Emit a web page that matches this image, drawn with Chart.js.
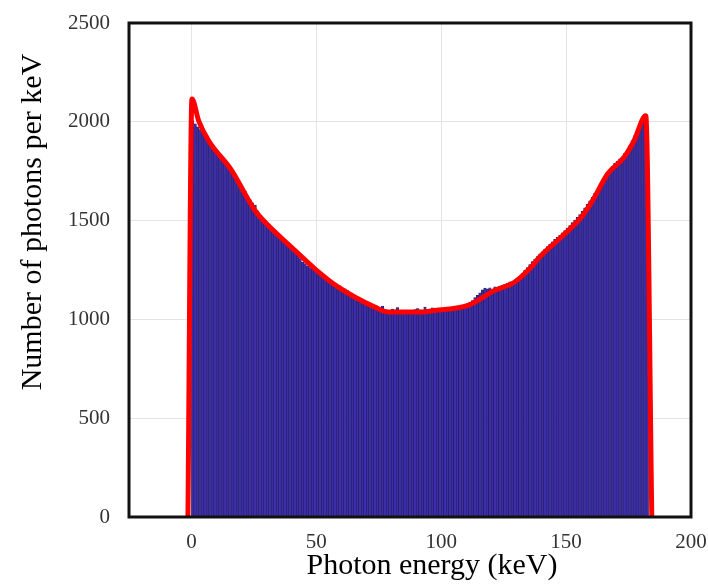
<!DOCTYPE html>
<html>
<head>
<meta charset="utf-8">
<script src="https://cdn.jsdelivr.net/npm/chart.js@4"></script>
<style>
  html, body { margin: 0; padding: 0; background: #fff; }
  #wrap { width: 708px; height: 584px; }
</style>
</head>
<body>
<div id="wrap"><canvas id="spectrum" width="708" height="584"></canvas></div>
<script>
// histogram counts per 1 keV bin, starting at 0 keV
const binStart = 0;
const binWidth = 1;
const counts = [
  2005, 1990, 1975, 1960, 1950, 1925, 1915, 1895, 1880, 1860,
  1840, 1828, 1815, 1800, 1790, 1770, 1752, 1735, 1715, 1690,
  1668, 1648, 1625, 1605, 1590, 1578, 1550, 1525, 1510, 1497,
  1480, 1470, 1462, 1445, 1428, 1415, 1400, 1390, 1375, 1362,
  1352, 1340, 1325, 1308, 1290, 1282, 1270, 1262, 1262, 1250,
  1240, 1235, 1225, 1212, 1205, 1196, 1186, 1182, 1168, 1170,
  1150, 1155, 1146, 1132, 1118, 1115, 1108, 1100, 1090, 1085,
  1078, 1072, 1068, 1062, 1055, 1045, 1068, 1040, 1035, 1038,
  1052, 1048, 1060, 1035, 1038, 1037, 1033, 1042, 1040, 1050,
  1055, 1048, 1040, 1062, 1050, 1045, 1058, 1046, 1045, 1050,
  1055, 1048, 1050, 1060, 1052, 1062, 1055, 1065, 1068, 1070,
  1078, 1088, 1095, 1110, 1122, 1135, 1150, 1158, 1155, 1160,
  1148, 1165, 1162, 1168, 1172, 1178, 1182, 1190, 1192, 1195,
  1205, 1218, 1232, 1248, 1262, 1278, 1293, 1305, 1318, 1330,
  1342, 1355, 1368, 1380, 1392, 1405, 1415, 1425, 1438, 1450,
  1462, 1475, 1490, 1502, 1516, 1530, 1548, 1565, 1582, 1600,
  1618, 1638, 1658, 1680, 1700, 1722, 1740, 1758, 1775, 1790,
  1800, 1812, 1822, 1840, 1860, 1880, 1905, 1930, 1958, 1985,
  2012, 2038, 1820
];

// smooth fitted spectrum (red curve)
const fitEnergy = [-1.4, 0.2, 2.9, 6.9, 16.2, 22.2, 25.5, 30.8, 41.5, 49.4, 58.8, 73.4, 78.8, 92, 97.4, 110.7, 121.3, 129.3, 134.7, 140, 148, 156, 160.6, 166.6, 173.2, 177.2, 181.9, 184.3];
const fitCounts = [0, 2115, 2005, 1904, 1752, 1618, 1550, 1475, 1348, 1256, 1163, 1062, 1037, 1037, 1045, 1071, 1146, 1188, 1247, 1323, 1416, 1516, 1601, 1736, 1820, 1904, 2030, 0];

const xTickValues = [0, 50, 100, 150, 200];
const yTickValues = [0, 500, 1000, 1500, 2000, 2500];

const xTitle = 'Photon energy (keV)';
const yTitle = 'Number of photons per keV';

const serif = '"Liberation Serif", "DejaVu Serif", serif';

const barPoints = counts.map((c, i) => ({ x: binStart + (i + 0.5) * binWidth, y: c }));
const fitPoints = fitEnergy.map((e, i) => ({ x: e, y: fitCounts[i] }));

// frame + axis titles drawn by hand so they sit where the original has them
const frameAndTitles = {
  id: 'frameAndTitles',
  afterDraw(chart) {
    const { ctx, chartArea } = chart;
    ctx.save();
    ctx.strokeStyle = '#111';
    ctx.lineWidth = 3;
    ctx.strokeRect(chartArea.left, chartArea.top, chartArea.right - chartArea.left, chartArea.bottom - chartArea.top);

    ctx.fillStyle = '#000';
    ctx.font = '30px ' + serif;
    ctx.textAlign = 'center';
    ctx.textBaseline = 'middle';
    ctx.fillText(xTitle, 432, 566);

    ctx.translate(33, 222);
    ctx.rotate(-Math.PI / 2);
    ctx.fillText(yTitle, 0, 0);
    ctx.restore();
  }
};

const ctx = document.getElementById('spectrum').getContext('2d');
const chart = new Chart(ctx, {
  type: 'bar',
  data: {
    datasets: [
      {
        type: 'line',
        data: fitPoints,
        borderColor: '#ff0000',
        borderWidth: 5,
        pointRadius: 0,
        cubicInterpolationMode: 'monotone',
        fill: false,
        order: 0
      },
      {
        type: 'bar',
        data: barPoints,
        backgroundColor: '#3c2eaa',
        borderColor: '#231c55',
        borderWidth: 0.6,
        barPercentage: 1,
        categoryPercentage: 1,
        order: 1
      }
    ]
  },
  options: {
    responsive: false,
    animation: false,
    layout: { padding: { top: 23, right: 17, left: 0, bottom: 0 } },
    plugins: {
      legend: { display: false },
      tooltip: { enabled: false }
    },
    scales: {
      x: {
        type: 'linear',
        min: -25,
        max: 200,
        offset: false,
        grid: { color: '#e4e4e4', drawTicks: false, offset: false },
        border: { display: false },
        ticks: {
          padding: 13,
          color: '#333',
          font: { family: serif, size: 21 },
          callback: v => String(v)
        },
        afterBuildTicks: scale => {
          scale.ticks = xTickValues.map(v => ({ value: v }));
        },
        afterFit: scale => {
          scale.height = 67;
          scale.paddingLeft = 0;
          scale.paddingRight = 0;
        }
      },
      y: {
        min: 0,
        max: 2500,
        grid: { color: '#e4e4e4', drawTicks: false },
        border: { display: false },
        ticks: {
          padding: 19,
          color: '#333',
          font: { family: serif, size: 21 },
          callback: v => String(v)
        },
        afterBuildTicks: scale => {
          scale.ticks = yTickValues.map(v => ({ value: v }));
        },
        afterFit: scale => {
          scale.width = 129;
          scale.paddingTop = 0;
          scale.paddingBottom = 0;
        }
      }
    }
  },
  plugins: [frameAndTitles]
});
</script>
</body>
</html>
